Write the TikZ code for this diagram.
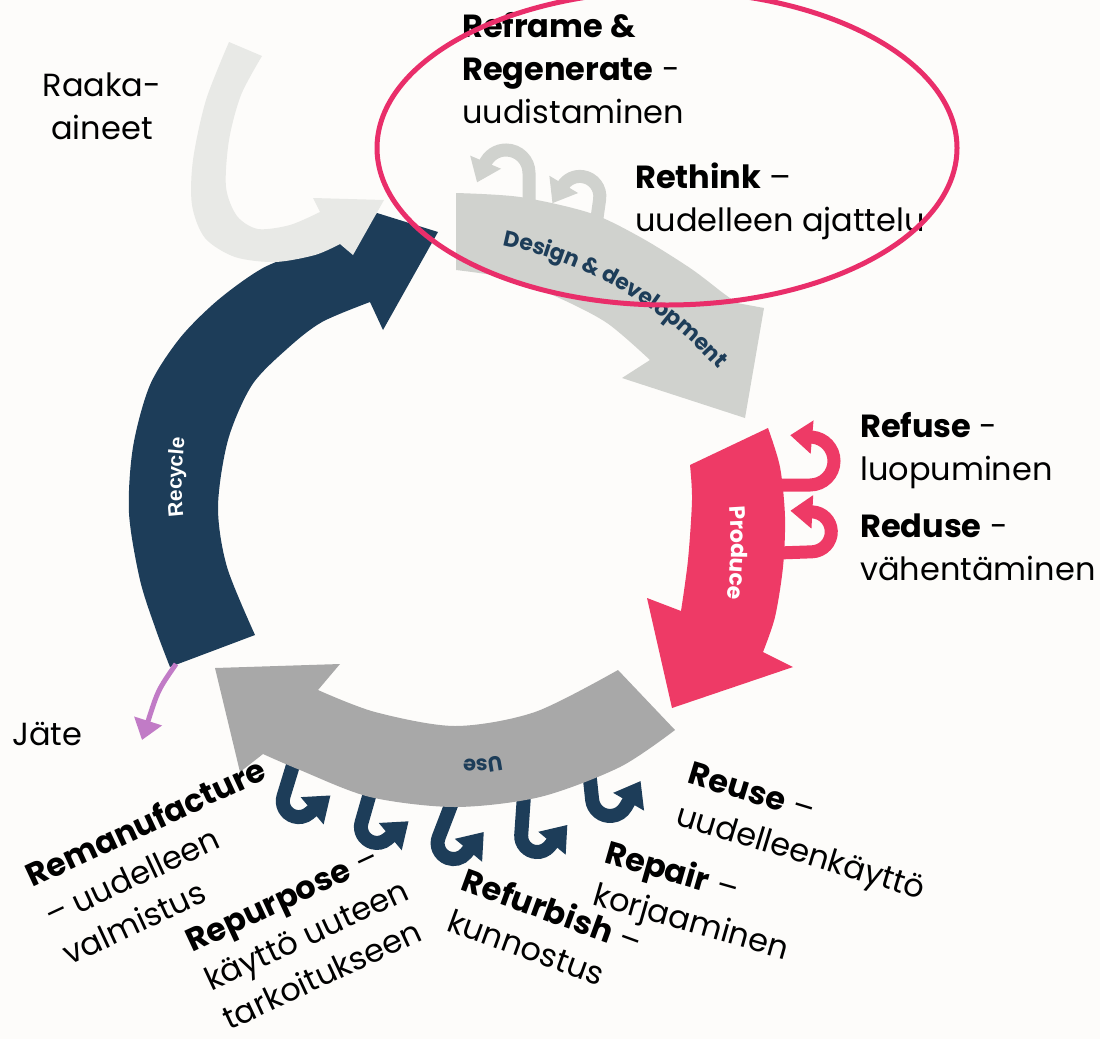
\documentclass[tikz,border=0pt]{standalone}
\usepackage{fontspec}
\setmainfont{Poppins}
\newfontfamily\libsans{Liberation Sans}
\usetikzlibrary{arrows.meta,decorations.text}
\definecolor{bgc}{RGB}{253,252,250}
\definecolor{navy}{RGB}{29,61,89}
\definecolor{pinkp}{RGB}{238,58,102}
\definecolor{usegray}{RGB}{168,168,168}
\definecolor{desgray}{RGB}{208,210,206}
\definecolor{rawgray}{RGB}{232,233,230}
\definecolor{ringpink}{RGB}{233,46,106}
\definecolor{jatecol}{RGB}{193,123,198}
\tikzset{
  lbl/.style={font=\fontsize{32}{43}\selectfont, inner sep=0pt, align=left, anchor=base west, text=black},
  curlline/.style={line width=13pt, -{Triangle[width=32pt,length=22pt]}},
  hookline/.style={line width=14pt, -{Triangle[width=34pt,length=24pt]}},
  jateline/.style={jatecol, line width=5pt, -{Triangle[width=28pt,length=20pt]}},
  ring/.style={ringpink, line width=5pt},
}
% #1 style, #2 base, #3 outward angle, #4 stem, #5 radius, #6 turn, #7 end segment
\newcommand\curlarrow[7]{%
  \draw[#1] (#2) -- ++(#3:#4pt) arc[start angle={#3-90}, delta angle=#6, radius=#5pt] -- ++({#3+#6}:#7pt);}
\begin{document}
\begin{tikzpicture}[x=1pt,y=-1pt]
\useasboundingbox (0,0) rectangle (1100,1039);
\fill[bgc] (0,0) rectangle (1100,1039);

% Recycle
\fill[navy] plot[smooth,tension=0.5] coordinates {(170,667) (156,630) (140,580) (129,513) (133,447) (150,385) (180,338) (218,300) (263,268) (310,250) (345,242)}
  -- (377,213) -- (438,232) -- (383,330) -- (370,302)
  -- plot[smooth,tension=0.5] coordinates {(370,302) (322,322) (288,348) (252,385) (228,440) (218,507) (227,567) (255,635)} -- cycle;
% raw materials
\fill[rawgray] plot[smooth,tension=0.5] coordinates {(229,42) (206,100) (193,160) (192,205) (205,238) (235,257) (275,262) (315,255) (340,244)}
  -- (353,255) -- (384,200) -- (313,198) -- (320,212)
  -- plot[smooth,tension=0.5] coordinates {(320,212) (290,225) (258,229) (237,216) (226,187) (229,140) (241,95) (262,56)} -- cycle;
% jate arrow
\coordinate (jstart) at (176,664);
\coordinate (jend) at (142,740);
\draw[jateline] (jstart) .. controls (158,690) .. (jend);

% design loops
\coordinate (d1) at (529,208);
\coordinate (d2) at (597,218);
\curlarrow{curlline,desgray}{d1}{90}{35}{23}{157}{20}
\curlarrow{curlline,desgray}{d2}{82}{19}{20}{157}{20}
% design
\fill[desgray] plot[smooth,tension=0.5] coordinates {(456,193) (520,197) (590,213) (640,237) (690,268) (723,293) (737,303)}
  -- (764,308) -- (745,418) -- (622,378) -- (650,360)
  -- plot[smooth,tension=0.5] coordinates {(650,360) (607,323) (557,297) (507,278) (456,270)} -- cycle;

% produce loops
\coordinate (p1) at (775,485);
\coordinate (p2) at (778,553);
\curlarrow{curlline,pinkp}{p1}{0}{35}{24}{175}{22}
\curlarrow{curlline,pinkp}{p2}{2}{34}{20}{175}{22}
% produce
\fill[pinkp] plot[smooth,tension=0.5] coordinates {(768,428) (780,467) (785,517) (783,567) (775,617) (763,652)}
  -- (793,667) -- (672,708) -- (647,598) -- (681,611)
  -- plot[smooth,tension=0.5] coordinates {(681,611) (688,560) (692,500) (690,465)} -- cycle;

% use hooks
\coordinate (u1) at (294,762);
\coordinate (u2) at (372,786);
\coordinate (u3) at (453,800);
\coordinate (u4) at (524,795);
\coordinate (u5) at (589,770);
\curlarrow{hookline,navy}{u1}{-107}{36}{16}{147}{28}
\curlarrow{hookline,navy}{u2}{-106}{38}{16}{146}{28}
\curlarrow{hookline,navy}{u3}{-111}{40}{16}{161}{28}
\curlarrow{hookline,navy}{u4}{-94}{40}{16}{144}{28}
\curlarrow{hookline,navy}{u5}{-84}{30}{18}{144}{30}
% use
\fill[usegray] plot[smooth,tension=0.5] coordinates {(675,730) (620,767) (540,797) (455,807) (370,797) (300,770) (263,754)}
  -- (240,772) -- (215,668) -- (340,664) -- (318,690)
  -- plot[smooth,tension=0.5] coordinates {(318,690) (375,712) (455,726) (535,712) (618,670)} -- cycle;

% labels on the cycle
\path[decorate, decoration={text along path, text align=center, raise=-7pt, text color=navy,
  text={|\fontsize{22}{22}\selectfont\bfseries|Design {\&} development}}]
  (423,230) arc[start angle=90, end angle=30, radius=402pt];
\path[decorate, decoration={text along path, text align=center, raise=-7pt, text color=white,
  text={|\fontsize{22}{22}\selectfont\bfseries|Produce}}]
  plot[smooth] coordinates {(728,440) (736,500) (738,555) (733,610) (722,665)};
\path[decorate, decoration={text along path, text align=center, raise=-7pt, text color=navy,
  text={|\fontsize{21}{21}\selectfont\bfseries|Use}}]
  plot[smooth] coordinates {(600,718) (540,752) (478,766) (415,757) (360,735)};
\path[decorate, decoration={text along path, text align=center, raise=-7pt, text color=white,
  text={|\libsans\fontsize{21}{21}\selectfont\bfseries|Recycle}}]
  plot[smooth] coordinates {(200,625) (183,560) (175,500) (177,445) (188,385) (205,330)};

% text labels (anchor = baseline of last line)
\node[lbl, align=center, anchor=base] (raaka) at (102,139) {Raaka-\\aineet};
\node[lbl] (reframe) at (462,123) {\textbf{Reframe \&}\\\textbf{Regenerate} -\\uudistaminen};
\node[lbl] (rethink) at (635,231) {\textbf{Rethink} –\\uudelleen ajattelu};
\node[lbl] (refuse) at (860,480) {\textbf{Refuse} -\\luopuminen};
\node[lbl] (reduse) at (860,580) {\textbf{Reduse} -\\vähentäminen};
\node[lbl] (jate) at (12,745) {Jäte};
\node[lbl, rotate=25] (reman) at (69,966) {\textbf{Remanufacture}\\– uudelleen\\valmistus};
\node[lbl, rotate=25] (repurp) at (229,1031) {\textbf{Repurpose} –\\käyttö uuteen\\tarkoitukseen};
\node[lbl, rotate=-20] (refurb) at (445,930) {\textbf{Refurbish} –\\kunnostus};
\node[lbl, rotate=-16] (repair) at (591,904) {\textbf{Repair} –\\korjaaminen};
\node[lbl, rotate=-17] (reuse) at (674,824) {\textbf{Reuse} –\\uudelleenkäyttö};

% highlight ring
\draw[ring] (667,148) ellipse [x radius=290pt, y radius=157pt];
\end{tikzpicture}
\end{document}
